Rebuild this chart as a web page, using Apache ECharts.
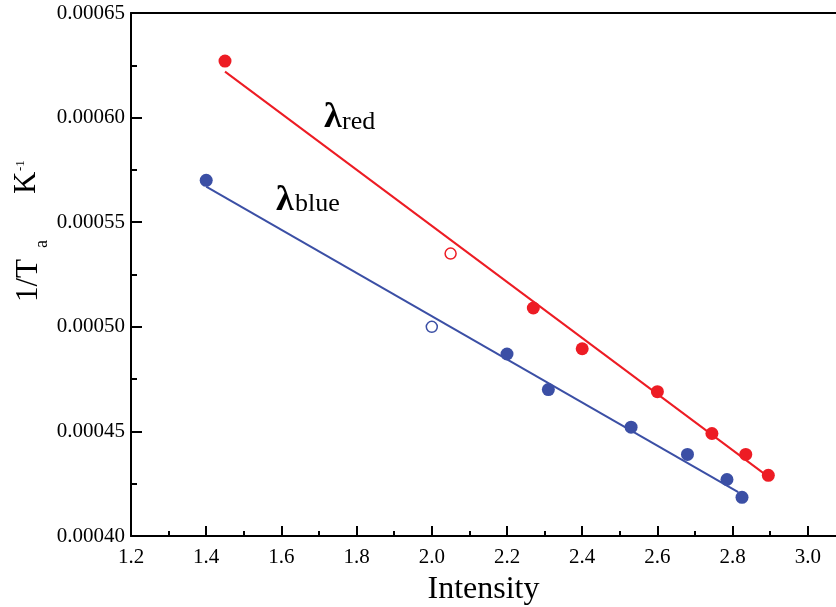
<!DOCTYPE html>
<html><head><meta charset="utf-8">
<script src="https://cdn.jsdelivr.net/npm/echarts@6/dist/echarts.min.js"></script>
<style>html,body{margin:0;padding:0;background:#fff}#c{width:836px;height:607px}</style>
</head><body><div id="c"></div>
<script>
// Data
var redX = [1.45, 2.27, 2.40, 2.60, 2.745, 2.835, 2.895];
var redY = [0.000627, 0.000509, 0.0004895, 0.000469, 0.000449, 0.000439, 0.000429];
var redOpenX = [2.05];
var redOpenY = [0.000535];
var redFitX = [1.45, 2.89];
var redFitY = [0.000622, 0.000429];

var blueX = [1.40, 2.20, 2.31, 2.53, 2.68, 2.785, 2.825];
var blueY = [0.00057, 0.000487, 0.00047, 0.000452, 0.000439, 0.000427, 0.0004185];
var blueOpenX = [2.0];
var blueOpenY = [0.0005];
var blueFitX = [1.40, 2.815];
var blueFitY = [0.000567, 0.000421];

var xMajorTicks = [1.2, 1.4, 1.6, 1.8, 2.0, 2.2, 2.4, 2.6, 2.8, 3.0];
var xMinorTicks = [1.3, 1.5, 1.7, 1.9, 2.1, 2.3, 2.5, 2.7, 2.9];

function zip(xs, ys) { return xs.map(function (x, i) { return [x, ys[i]]; }); }

var RED = '#ED1C24', BLUE = '#3B4FA5';
var FONT = '"Liberation Serif", "Times New Roman", serif';

var chart = echarts.init(document.getElementById('c'), null, {renderer: 'canvas'});
chart.setOption({
  animation: false,
  grid: {left: 131, right: 0, top: 13, bottom: 71, containLabel: false, outerBoundsMode: 'none'},
  xAxis: [{
    type: 'value', min: 1.2, max: 3.075, position: 'bottom',
    axisLine: {lineStyle: {color: '#000', width: 2}},
    axisTick: {inside: true, length: 10, lineStyle: {color: '#000', width: 2}, customValues: xMajorTicks},
    axisLabel: {customValues: xMajorTicks, color: '#000', fontFamily: FONT, fontSize: 21, margin: 11,
      formatter: function (v) { return v.toFixed(1); }},
    splitLine: {show: false},
    name: 'Intensity', nameLocation: 'middle', nameGap: 38,
    nameTextStyle: {color: '#000', fontFamily: FONT, fontSize: 32}
  }, {
    type: 'value', min: 1.2, max: 3.075, position: 'bottom',
    axisLine: {show: false},
    axisTick: {inside: true, length: 5, lineStyle: {color: '#000', width: 2}, customValues: xMinorTicks},
    axisLabel: {show: false}, splitLine: {show: false}
  }, {
    type: 'value', min: 1.2, max: 3.075, position: 'top',
    axisLine: {lineStyle: {color: '#000', width: 2}},
    axisTick: {show: false}, axisLabel: {show: false}, splitLine: {show: false}
  }],
  yAxis: {
    type: 'value', min: 0.0004, max: 0.00065, interval: 0.00005,
    axisLine: {show: true, lineStyle: {color: '#000', width: 2}},
    axisTick: {inside: true, length: 11, lineStyle: {color: '#000', width: 2}},
    minorTick: {show: true, splitNumber: 2, length: 6, lineStyle: {color: '#000', width: 2}},
    axisLabel: {color: '#000', fontFamily: FONT, fontSize: 21, margin: 6,
      formatter: function (v) { return v.toFixed(5); }},
    splitLine: {show: false}
  },
  series: [
    {type: 'line', data: zip(redFitX, redFitY), showSymbol: false, symbol: 'none',
      lineStyle: {color: RED, width: 2}, z: 2},
    {type: 'line', data: zip(blueFitX, blueFitY), showSymbol: false, symbol: 'none',
      lineStyle: {color: BLUE, width: 2}, z: 2},
    {type: 'scatter', data: zip(redX, redY), symbol: 'circle', symbolSize: 13,
      itemStyle: {color: RED, opacity: 1}, z: 3},
    {type: 'scatter', data: zip(blueX, blueY), symbol: 'circle', symbolSize: 13,
      itemStyle: {color: BLUE, opacity: 1}, z: 3},
    {type: 'scatter', data: zip(redOpenX, redOpenY), symbol: 'circle', symbolSize: 11,
      itemStyle: {color: '#fff', borderColor: RED, borderWidth: 1.5, opacity: 1}, z: 3},
    {type: 'scatter', data: zip(blueOpenX, blueOpenY), symbol: 'circle', symbolSize: 11,
      itemStyle: {color: '#fff', borderColor: BLUE, borderWidth: 1.5, opacity: 1}, z: 3}
  ],
  graphic: [
    {type: 'text', x: 324, y: 136, style: {text: 'λ', font: 'bold 36px ' + FONT, fill: '#000', textAlign: 'left', textVerticalAlign: 'bottom'}},
    {type: 'text', x: 342, y: 135, style: {text: 'red', font: '26px ' + FONT, fill: '#000', textAlign: 'left', textVerticalAlign: 'bottom'}},
    {type: 'text', x: 276, y: 219, style: {text: 'λ', font: 'bold 36px ' + FONT, fill: '#000', textAlign: 'left', textVerticalAlign: 'bottom'}},
    {type: 'text', x: 295, y: 217, style: {text: 'blue', font: '26px ' + FONT, fill: '#000', textAlign: 'left', textVerticalAlign: 'bottom'}},
    {type: 'text', x: 44, y: 302, rotation: Math.PI / 2, style: {text: '1/T', font: '31px ' + FONT, fill: '#000', textAlign: 'left', textVerticalAlign: 'bottom'}},
    {type: 'text', x: 51, y: 248, rotation: Math.PI / 2, style: {text: 'a', font: '18px ' + FONT, fill: '#000', textAlign: 'left', textVerticalAlign: 'bottom'}},
    {type: 'text', x: 42, y: 194, rotation: Math.PI / 2, style: {text: 'K', font: '31px ' + FONT, fill: '#000', textAlign: 'left', textVerticalAlign: 'bottom'}},
    {type: 'text', x: 27, y: 171, rotation: Math.PI / 2, style: {text: '-1', font: '13px ' + FONT, fill: '#000', textAlign: 'left', textVerticalAlign: 'bottom'}}
  ]
});
</script></body></html>
